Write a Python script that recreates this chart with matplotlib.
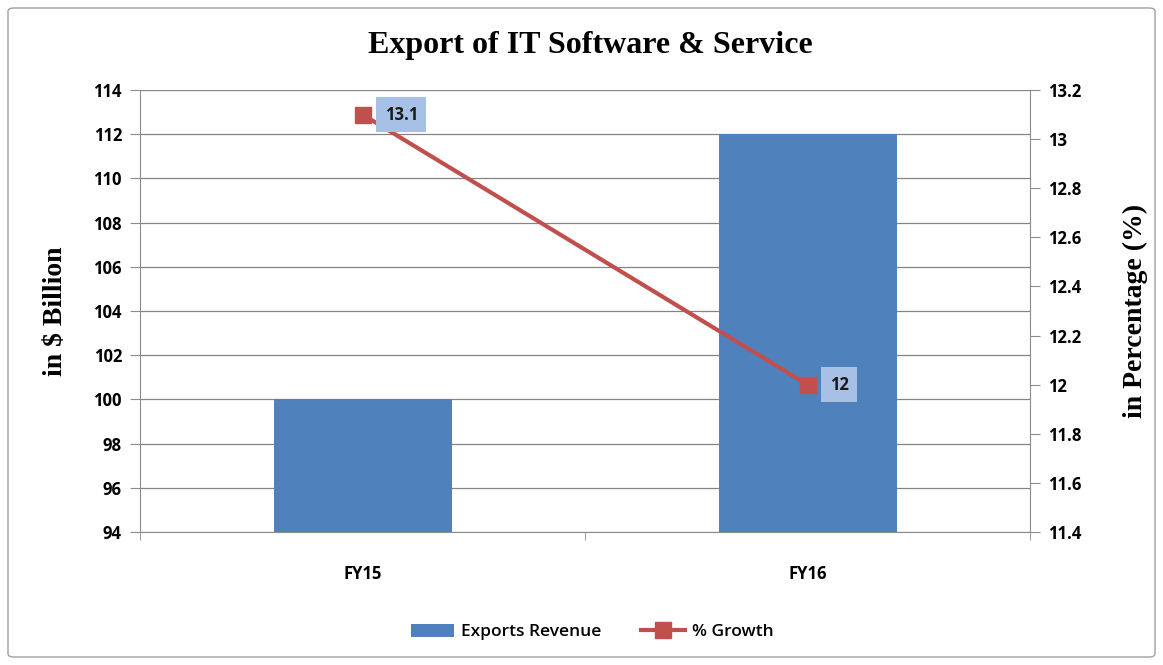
import matplotlib
matplotlib.use("Agg")
import matplotlib.pyplot as plt
from matplotlib.patches import FancyBboxPatch

categories = ["FY15", "FY16"]
exports_revenue = [100, 112]
growth_pct = [13.1, 12]
growth_labels = ["13.1", "12"]

bar_color = "#4F81BD"
line_color = "#C0504D"
tick_font = ["Open Sans", "DejaVu Sans"]
serif_font = ["Liberation Serif", "DejaVu Serif"]

fig = plt.figure(figsize=(11.63, 6.65), dpi=100)
fig.patch.set_facecolor("white")
border = FancyBboxPatch((8 / 1163, 8 / 665), 1147 / 1163, 649 / 665,
                        boxstyle="round,pad=0,rounding_size=0.005",
                        transform=fig.transFigure, fill=False,
                        edgecolor="#A0A0A0", linewidth=1.0)
fig.patches.append(border)

ax = fig.add_axes([140 / 1163, 1 - 532 / 665, 890 / 1163, 442 / 665])
x = list(range(len(categories)))
ax.bar(x, exports_revenue, width=0.4, color=bar_color, zorder=2, label="Exports Revenue")
ax.set_xlim(-0.5, len(categories) - 0.5)
ax.set_ylim(94, 114)
ax.set_yticks(range(94, 115, 2))
ax.yaxis.grid(True, color="#858585", linewidth=0.9, zorder=0)
ax.set_axisbelow(True)
ax.set_xticks(x)
ax.set_xticklabels(categories)
ax.set_xticks([-0.5, 0.5, 1.5], minor=True)
ax.tick_params(axis="x", which="major", length=0, pad=24)
ax.tick_params(axis="x", which="minor", length=6, color="#8C8C8C", direction="out")
ax.tick_params(axis="y", length=7, color="#8C8C8C", direction="out", pad=6)
for s in ["top", "right"]:
    ax.spines[s].set_visible(False)
for s in ["left", "bottom"]:
    ax.spines[s].set_color("#8C8C8C")
for lbl in ax.get_xticklabels() + ax.get_yticklabels():
    lbl.set_fontfamily(tick_font)
    lbl.set_fontweight("bold")
    lbl.set_fontsize(12)
ax.set_ylabel("in $ Billion", fontfamily=serif_font, fontweight="bold", fontsize=20, labelpad=18)

ax2 = ax.twinx()
ax2.plot(x, growth_pct, color=line_color, linewidth=3, marker="s", markersize=11,
         zorder=3, label="% Growth")
ax2.set_ylim(11.4, 13.2)
ax2.set_yticks([11.4, 11.6, 11.8, 12.0, 12.2, 12.4, 12.6, 12.8, 13.0, 13.2])
ax2.set_yticklabels(["11.4", "11.6", "11.8", "12", "12.2", "12.4", "12.6", "12.8", "13", "13.2"])
ax2.tick_params(axis="y", length=7, color="#8C8C8C", direction="out", pad=6)
for s in ["top", "left", "bottom"]:
    ax2.spines[s].set_visible(False)
ax2.spines["right"].set_color("#8C8C8C")
for lbl in ax2.get_yticklabels():
    lbl.set_fontfamily(tick_font)
    lbl.set_fontweight("bold")
    lbl.set_fontsize(12)
ax2.set_ylabel("in Percentage (%)", fontfamily=serif_font, fontweight="bold", fontsize=20, labelpad=30)

for xi, yi, t in zip(x, growth_pct, growth_labels):
    ax2.annotate(t, (xi, yi), xytext=(16, 0), textcoords="offset points",
                 ha="left", va="center", fontfamily=tick_font, fontweight="bold",
                 fontsize=12, color="#1A1A1A", zorder=4,
                 bbox=dict(boxstyle="square,pad=0.5", facecolor="#A7C1E6", edgecolor="none"))

fig.text(590 / 1163, 1 - 45 / 665, "Export of IT Software & Service", ha="center", va="center",
         fontfamily=serif_font, fontweight="bold", fontsize=23)

h1, l1 = ax.get_legend_handles_labels()
h2, l2 = ax2.get_legend_handles_labels()
leg = fig.legend(h1 + h2, l1 + l2, loc="center", bbox_to_anchor=(592 / 1163, 1 - 632 / 665),
                 ncol=2, frameon=False, prop={"family": tick_font, "size": 12.5, "weight": "semibold"},
                 handlelength=2.5, handleheight=0.8, columnspacing=2.3, handletextpad=0.4)

fig.savefig("out.png", dpi=100)
